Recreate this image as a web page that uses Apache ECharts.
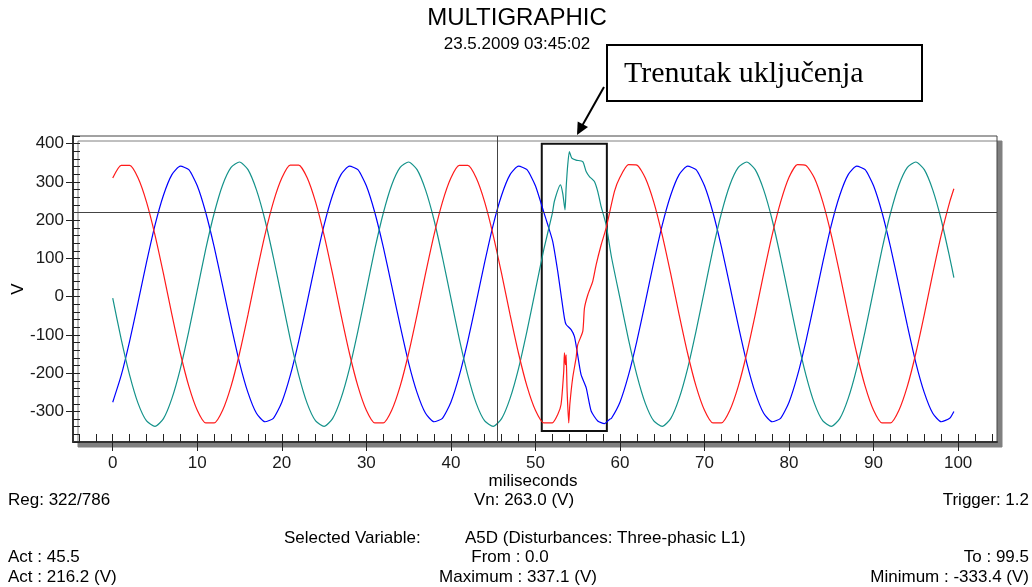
<!DOCTYPE html>
<html>
<head>
<meta charset="utf-8">
<script src="https://cdn.jsdelivr.net/npm/echarts@6/dist/echarts.min.js"></script>
<style>
html, body { margin: 0; padding: 0; background: #fff; }
#chart { width: 1032px; height: 587px; }
</style>
</head>
<body>
<div id="chart"></div>
<script>
// sample times (ms), 1 ms apart, last sample at 99.5
const ms = [
  0, 1, 2, 3, 4, 5, 6, 7, 8, 9, 10, 11, 12, 13, 14, 15, 16, 17, 18, 19,
  20, 21, 22, 23, 24, 25, 26, 27, 28, 29, 30, 31, 32, 33, 34, 35, 36, 37, 38, 39,
  40, 41, 42, 43, 44, 45, 46, 47, 48, 49, 50, 51, 52, 53, 54, 55, 56, 57, 58, 59,
  60, 61, 62, 63, 64, 65, 66, 67, 68, 69, 70, 71, 72, 73, 74, 75, 76, 77, 78, 79,
  80, 81, 82, 83, 84, 85, 86, 87, 88, 89, 90, 91, 92, 93, 94, 95, 96, 97, 98, 99, 99.5
];

// phase voltages (V)
const red = [
  310, 343, 343, 310, 247, 161, 60, -47, -148, -234, -297, -330, -330, -297, -234, -148, -47, 60, 161, 247,
  310, 344, 344, 311, 247, 161, 60, -47, -148, -234, -297, -330, -330, -297, -234, -148, -47, 60, 161, 247,
  310, 343, 343, 310, 247, 161, 60, -47, -148, -234, -297, -330, -330, -297, -234, -148, -47, 60, 161, 247,
  312, 345, 344, 310, 247, 161, 60, -47, -148, -234, -297, -330, -330, -297, -234, -148, -47, 60, 161, 247,
  312, 345, 343, 310, 247, 161, 60, -47, -148, -234, -297, -330, -330, -297, -234, -148, -47, 60, 161, 247, 282
];
const blue = [
  -276, -206, -116, -14, 90, 187, 265, 319, 341, 332, 290, 220, 130, 28, -76, -173, -251, -305, -327, -318,
  -276, -206, -116, -14, 90, 187, 265, 319, 341, 332, 290, 220, 130, 28, -76, -173, -251, -305, -327, -318,
  -276, -206, -116, -14, 90, 187, 265, 319, 341, 332, 290, 220, 130, 28, -76, -173, -251, -305, -327, -318,
  -276, -206, -116, -14, 90, 187, 265, 319, 341, 332, 290, 220, 130, 28, -76, -173, -251, -305, -327, -318,
  -276, -206, -116, -14, 90, 187, 265, 319, 341, 332, 290, 220, 130, 28, -76, -173, -251, -305, -327, -318, -300
];
const teal = [
  -4, -111, -205, -279, -325, -339, -319, -266, -188, -90, 17, 124, 218, 292, 338, 352, 332, 279, 201, 103,
  -4, -111, -205, -279, -325, -339, -319, -266, -188, -90, 17, 124, 218, 292, 338, 352, 332, 279, 201, 103,
  -4, -111, -205, -279, -325, -339, -319, -266, -188, -90, 17, 124, 218, 292, 338, 352, 332, 279, 201, 103,
  -4, -111, -205, -279, -325, -339, -319, -266, -188, -90, 17, 124, 218, 292, 338, 352, 332, 279, 201, 103,
  -4, -111, -205, -279, -325, -339, -319, -266, -188, -90, 17, 124, 218, 292, 338, 352, 332, 279, 201, 103, 50
];

// switching transient, finer samples
const redDistT = [52.64, 53.03, 53.35, 53.43, 53.55, 53.63, 53.75, 53.94, 54.07, 54.41, 54.81, 55.0, 55.6, 55.8, 56.2, 56.78, 57.18, 57.77, 58.36, 59.35];
const redDistV = [-308, -282, -195, -147, -178, -152, -247, -330, -282, -212, -160, -126, -91, -30, 5, 40, 83, 135, 179, 275];
const blueDistT = [51.46, 52.05, 52.64, 53.03, 53.43, 53.63, 54.22, 54.61, 54.93, 55.4, 56.0, 56.59, 57.37, 58.16, 58.75];
const blueDistV = [188, 144, 66, 5, -56, -73, -86, -104, -143, -204, -238, -299, -325, -332, -321];
const tealDistT = [52.25, 52.96, 53.23, 53.5, 53.63, 53.82, 54.02, 54.3, 54.81, 55.6, 56.0, 56.39, 56.98, 57.37, 57.77, 58.36];
const tealDistV = [250, 292, 270, 227, 283, 344, 379, 362, 357, 353, 327, 314, 301, 275, 236, 188];

// cursor and marked window
const cursorT = 45.5;
const cursorV = 221;
const boxT = [50.75, 58.45];
const boxV = [400, -351];

const xTicks = [0, 100, 10];
const yTicks = [-300, 400, 100];

const xMin = -4.7, xMax = 104.6, yMin = -380, yMax = 420;
const plot = { left: 73, top: 136, width: 924, height: 306 };
const px = v => plot.left + (v - xMin) / (xMax - xMin) * plot.width;
const py = v => plot.top + (yMax - v) / (yMax - yMin) * plot.height;

function merge(base, from, to, dt, dv) {
  let pts = ms.map((t, i) => [t, base[i]]).filter(p => p[0] <= from || p[0] >= to);
  dt.forEach((t, i) => pts.push([t, dv[i]]));
  return pts.sort((a, b) => a[0] - b[0]);
}

const font = "'Liberation Sans', Arial, sans-serif";
const txt = (x, y, s, align, size) => ({
  type: 'text', x: x, y: y, silent: true,
  style: { text: s, fill: '#000', font: (size || 17) + 'px ' + font, textAlign: align || 'left', textVerticalAlign: 'middle' }
});

const chart = echarts.init(document.getElementById('chart'));
const noAxis = i => ({ gridIndex: i, type: 'value', show: false, min: 0, max: 1 });
const tickStyle = { color: '#222', width: 1 };
const labelStyle = { fontSize: 17, color: '#1a1a1a', fontFamily: font };

chart.setOption({
  animation: false,
  backgroundColor: '#fff',
  grid: [
    { left: plot.left, top: plot.top, width: plot.width, height: plot.height, show: true,
      backgroundColor: '#fff', borderColor: '#444', borderWidth: 1,
      shadowColor: '#808080', shadowBlur: 0, shadowOffsetX: 5, shadowOffsetY: 5, outerBoundsMode: 'none' },
    { left: px(-4), top: plot.top, width: px(104) - px(-4), height: plot.height, outerBoundsMode: 'none' },
    { left: px(xTicks[0]), top: plot.top, width: px(xTicks[1]) - px(xTicks[0]), height: plot.height, outerBoundsMode: 'none' },
    { left: plot.left, top: py(yTicks[1]), width: plot.width, height: py(yTicks[0]) - py(yTicks[1]), outerBoundsMode: 'none' }
  ],
  xAxis: [
    { gridIndex: 0, type: 'value', min: xMin, max: xMax,
      axisLine: { show: true, onZero: false, lineStyle: { color: '#333', width: 2 } },
      axisTick: { show: false }, axisLabel: { show: false }, splitLine: { show: false } },
    { gridIndex: 1, type: 'value', min: -4, max: 104, interval: 2,
      axisLine: { show: false, onZero: false },
      axisTick: { show: true, inside: true, length: 8, lineStyle: tickStyle },
      axisLabel: { show: false }, splitLine: { show: false } },
    { gridIndex: 2, type: 'value', min: xTicks[0], max: xTicks[1], interval: xTicks[2],
      axisLine: { show: false, onZero: false },
      axisTick: { show: true, inside: false, length: 9, lineStyle: tickStyle },
      axisLabel: Object.assign({ margin: 13 }, labelStyle), splitLine: { show: false } },
    noAxis(3)
  ],
  yAxis: [
    { gridIndex: 0, type: 'value', min: yMin, max: yMax, interval: 20,
      name: 'V', nameLocation: 'middle', nameGap: 46, nameRotate: 90,
      nameTextStyle: { fontSize: 17, color: '#000', fontFamily: font },
      axisLine: { show: true, onZero: false, lineStyle: { color: '#333', width: 2 } },
      axisTick: { show: true, inside: true, length: 7, lineStyle: tickStyle },
      axisLabel: { show: false }, splitLine: { show: false } },
    noAxis(1),
    noAxis(2),
    { gridIndex: 3, type: 'value', min: yTicks[0], max: yTicks[1], interval: yTicks[2],
      axisLine: { show: false, onZero: false },
      axisTick: { show: true, inside: false, length: 7, lineStyle: tickStyle },
      axisLabel: Object.assign({ margin: 9 }, labelStyle), splitLine: { show: false } }
  ],
  series: [
    { name: 'L2', type: 'line', data: merge(blue, 51, 59, blueDistT, blueDistV),
      showSymbol: false, symbol: 'none', smooth: 0.2, lineStyle: { color: '#0000ff', width: 1.2 }, itemStyle: { color: '#0000ff' },
      markArea: { silent: true, itemStyle: { color: 'rgba(0,0,0,0)', borderColor: '#111', borderWidth: 2 },
        data: [[{ xAxis: boxT[0], yAxis: boxV[0] }, { xAxis: boxT[1], yAxis: boxV[1] }]] } },
    { name: 'L3', type: 'line', data: merge(teal, 52, 59, tealDistT, tealDistV),
      showSymbol: false, symbol: 'none', smooth: 0.2, lineStyle: { color: '#14928a', width: 1.2 }, itemStyle: { color: '#14928a' } },
    { name: 'L1', type: 'line', data: merge(red, 52, 60, redDistT, redDistV),
      showSymbol: false, symbol: 'none', smooth: 0.2, lineStyle: { color: '#ff1a1a', width: 1.2 }, itemStyle: { color: '#ff1a1a' },
      markLine: { silent: true, symbol: ['none', 'none'], label: { show: false },
        lineStyle: { color: '#444', width: 1, type: 'solid' },
        data: [{ xAxis: cursorT }, { yAxis: cursorV }] } }
  ],
  graphic: [
    txt(517, 18, 'MULTIGRAPHIC', 'center', 24),
    txt(517, 44, '23.5.2009 03:45:02', 'center', 17),
    { type: 'rect', silent: true, shape: { x: 607, y: 45, width: 315, height: 56 },
      style: { fill: '#fff', stroke: '#000', lineWidth: 2 } },
    { type: 'text', silent: true, x: 624, y: 74,
      style: { text: 'Trenutak uključenja', fill: '#000', font: "30px 'Liberation Serif', 'Times New Roman', serif",
        textAlign: 'left', textVerticalAlign: 'middle' } },
    { type: 'line', silent: true, shape: { x1: 604, y1: 87, x2: 582, y2: 126 },
      style: { stroke: '#000', lineWidth: 2 } },
    { type: 'polygon', silent: true, shape: { points: [[577, 135], [588, 127], [577.7, 121.6]] },
      style: { fill: '#000' } },
    txt(533, 481, 'miliseconds', 'center'),
    txt(8, 500, 'Reg: 322/786'),
    txt(524, 500, 'Vn: 263.0 (V)', 'center'),
    txt(1029, 500, 'Trigger: 1.2', 'right'),
    txt(284, 538, 'Selected Variable:'),
    txt(465, 538, 'A5D (Disturbances: Three-phasic L1)'),
    txt(8, 557, 'Act : 45.5'),
    txt(510, 557, 'From : 0.0', 'center'),
    txt(1029, 557, 'To : 99.5', 'right'),
    txt(8, 577, 'Act : 216.2 (V)'),
    txt(518, 577, 'Maximum : 337.1 (V)', 'center'),
    txt(1029, 577, 'Minimum : -333.4 (V)', 'right')
  ]
});
</script>
</body>
</html>
